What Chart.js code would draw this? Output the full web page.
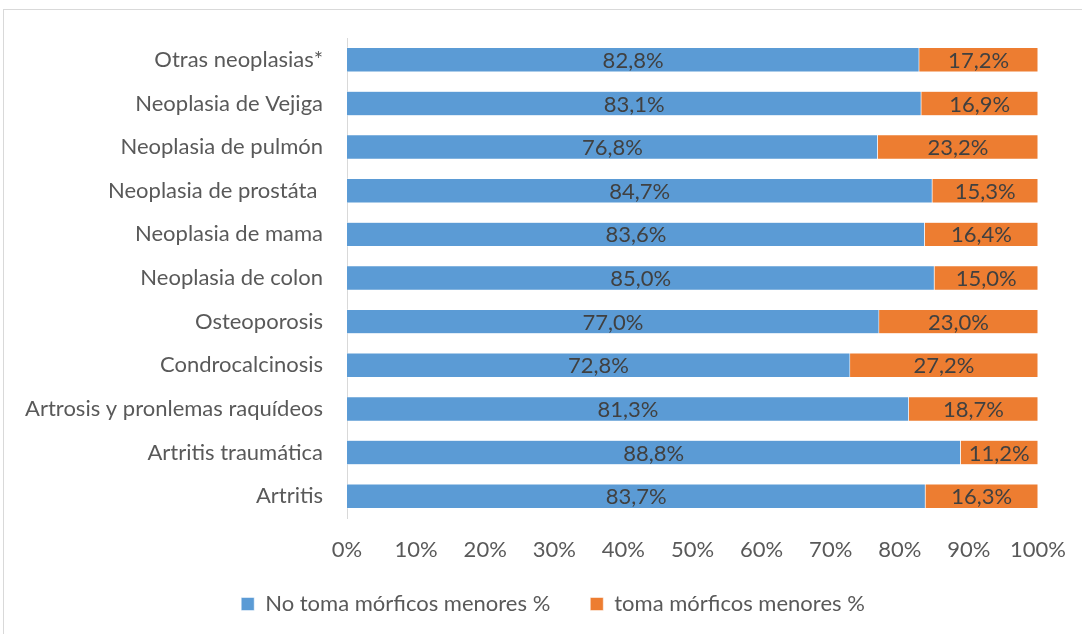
<!DOCTYPE html>
<html>
<head>
<meta charset="utf-8">
<script src="https://cdn.jsdelivr.net/npm/chart.js@4"></script>
<style>
  html, body { margin: 0; padding: 0; background: #fff; overflow: hidden; }
  #frame { position: absolute; left: 3px; top: 9px; width: 1100px; height: 660px; border: 1px solid #d9d9d9; }
  #wrap { position: absolute; left: 0; top: 0; width: 1082px; height: 634px; }
</style>
</head>
<body>
<div id="frame"></div>
<div id="wrap"><canvas id="chart"></canvas></div>
<script>
const categories = [
  "Otras neoplasias*",
  "Neoplasia de Vejiga",
  "Neoplasia de pulmón",
  "Neoplasia de prostáta ",
  "Neoplasia de mama",
  "Neoplasia de colon",
  "Osteoporosis",
  "Condrocalcinosis",
  "Artrosis y pronlemas raquídeos",
  "Artritis traumática",
  "Artritis"
];
const noToma = [82.8, 83.1, 76.8, 84.7, 83.6, 85.0, 77.0, 72.8, 81.3, 88.8, 83.7];
const toma = [17.2, 16.9, 23.2, 15.3, 16.4, 15.0, 23.0, 27.2, 18.7, 11.2, 16.3];
const seriesNames = ["No toma mórficos menores %", "toma mórficos menores %"];
const xTicks = [0, 10, 20, 30, 40, 50, 60, 70, 80, 90, 100];

const FONT = "Lato";
const TEXT = "#595959";

function fmt(v) {
  return v.toFixed(1).replace('.', ',') + '%';
}

// draw value labels in the middle of every bar segment
const barLabels = {
  id: 'barLabels',
  afterDatasetsDraw(chart) {
    const c = chart.ctx;
    c.save();
    c.font = "22px " + FONT;
    c.fillStyle = "#404040";
    c.textAlign = "center";
    c.textBaseline = "middle";
    chart.data.datasets.forEach((ds, i) => {
      const meta = chart.getDatasetMeta(i);
      meta.data.forEach((el, j) => {
        const p = el.getProps(['x', 'y', 'base'], true);
        c.fillText(fmt(ds.data[j]), (p.x + p.base) / 2, p.y + 1);
      });
    });
    c.restore();
  }
};

// legend sits a bit right of the canvas middle and closer to the axis, like in the original
const legendShift = {
  id: 'legendShift',
  afterLayout(chart) {
    chart.legend.left += 29;
    chart.legend.right += 29;
    chart.legend.top -= 13;
    chart.legend.bottom -= 13;
  }
};

const ctx = document.getElementById('chart').getContext('2d');
const chart = new Chart(ctx, {
  type: 'bar',
  data: {
    labels: categories,
    datasets: [
      {
        label: seriesNames[0],
        data: noToma,
        backgroundColor: "#5b9bd5",
        borderColor: "#ffffff",
        borderWidth: 0.5
      },
      {
        label: seriesNames[1],
        data: toma,
        backgroundColor: "#ed7d31",
        borderColor: "#ffffff",
        borderWidth: 0.5
      }
    ]
  },
  options: {
    indexAxis: 'y',
    responsive: true,
    maintainAspectRatio: false,
    animation: false,
    layout: {
      padding: { left: 10, right: 44, top: 38, bottom: 9 }
    },
    datasets: {
      bar: {
        barPercentage: 0.56,
        categoryPercentage: 1
      }
    },
    scales: {
      x: {
        stacked: true,
        min: 0,
        max: 100,
        afterBuildTicks: (scale) => { scale.ticks = xTicks.map(v => ({ value: v })); },
        afterFit: (scale) => { scale.height = 48; },
        grid: { display: false },
        border: { display: false },
        ticks: {
          color: TEXT,
          font: { family: FONT, size: 22 },
          padding: 11,
          maxRotation: 0,
          callback: (v) => v + '%'
        }
      },
      y: {
        stacked: true,
        afterFit: (scale) => { scale.width = 337; },
        grid: { display: false },
        border: { display: true, color: "#d9d9d9", width: 1 },
        ticks: {
          color: TEXT,
          font: { family: FONT, size: 22 },
          padding: 16
        }
      }
    },
    plugins: {
      legend: {
        display: true,
        position: 'bottom',
        maxHeight: 59,
        labels: {
          color: TEXT,
          font: { family: FONT, size: 22 },
          boxWidth: 13,
          boxHeight: 13,
          padding: 40
        }
      },
      tooltip: { enabled: false }
    }
  },
  plugins: [barLabels, legendShift]
});
</script>
</body>
</html>
